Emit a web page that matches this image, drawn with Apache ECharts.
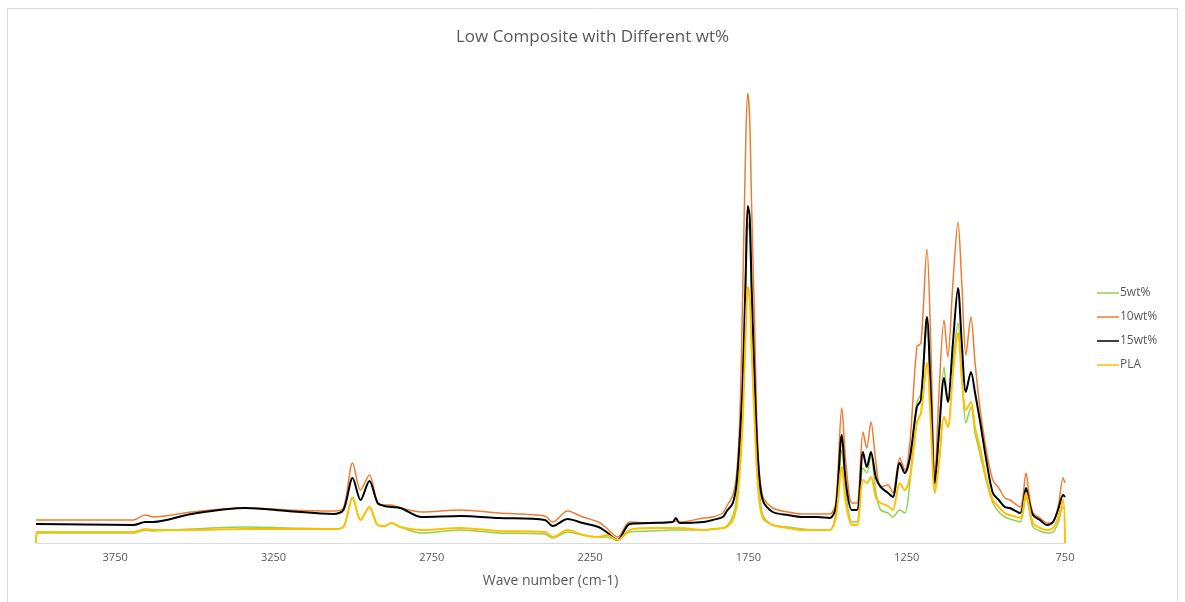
<!DOCTYPE html>
<html>
<head>
<meta charset="utf-8">
<script src="https://cdn.jsdelivr.net/npm/echarts@6/dist/echarts.min.js"></script>
<style>
html,body{margin:0;padding:0;background:#fff;}
#chartLine{width:1185px;height:602px;}
</style>
</head>
<body>
<div id="chartLine"></div>
<script>
// wave numbers (cm-1), shared by all series
var waveNumbers = [4000, 3997, 3692, 3655, 3629, 3509, 3339, 3206, 3060, 3029, 3000, 2975, 2947, 2921, 2899, 2877, 2849,
	2782, 2659, 2539, 2393, 2368, 2321, 2273, 2223, 2198, 2163, 2125, 2062, 1989, 1979, 1967, 1891, 1863, 1831, 1818,
	1799, 1787, 1777, 1768, 1758, 1752, 1746, 1740, 1730, 1720, 1705, 1673, 1625, 1578, 1531, 1493, 1474, 1455, 1442,
	1423, 1407, 1388, 1376, 1363, 1347, 1332, 1309, 1294, 1272, 1256, 1240, 1218, 1205, 1186, 1174, 1161, 1148, 1132,
	1120, 1104, 1088, 1076, 1063, 1047, 1034, 1019, 997, 978, 959, 940, 924, 892, 873, 864, 851, 829, 807, 788, 772,
	756, 750];
var wt5 = [10, 10, 10, 13, 12, 14, 16, 15, 14, 16, 46, 23, 36, 18, 17, 20, 16,
	10, 13, 10, 9, 5, 11, 8, 6, 6, 3, 11, 12, 13, 13, 13, 13, 14, 15, 17,
	27, 45, 90, 140, 255, 321, 310, 245, 150, 75, 28, 18, 16, 14, 13, 13, 30, 93, 50,
	21, 21, 75, 70, 88, 50, 33, 30, 26, 33, 30, 60, 140, 150, 218, 140, 56, 110, 176,
	141, 180, 220, 170, 120, 136, 110, 90, 60, 40, 31, 26, 24, 21, 46, 35, 16, 12, 10, 11, 20,
	36, 33];
var wt10 = [23, 23, 23, 28, 26, 31, 35, 33, 32, 35, 80, 53, 68, 40, 38, 38, 35,
	31, 33, 30, 27, 21, 32, 26, 21, 15, 6, 21, 20, 21, 22, 21, 25, 26, 30, 37,
	48, 70, 125, 250, 405, 450, 425, 340, 215, 95, 47, 35, 31, 29, 29, 29, 40, 135, 80,
	40, 40, 111, 95, 121, 80, 56, 58, 50, 85, 73, 100, 196, 200, 294, 200, 63, 150, 223,
	186, 260, 321, 260, 188, 226, 180, 136, 90, 63, 55, 45, 43, 36, 70, 50, 30, 25, 20, 21, 36,
	65, 60];
var wt15 = [19, 19, 18, 21, 21, 29, 35, 32, 29, 33, 65, 43, 62, 40, 37, 36, 35,
	26, 27, 25, 23, 17, 24, 20, 16, 11, 3, 19, 20, 21, 25, 20, 21, 23, 26, 32,
	40, 60, 105, 160, 275, 337, 327, 258, 160, 85, 43, 31, 28, 26, 26, 25, 35, 108, 60,
	33, 33, 91, 76, 91, 65, 56, 50, 46, 80, 70, 85, 136, 143, 226, 150, 60, 110, 165,
	141, 200, 255, 200, 151, 171, 150, 123, 80, 50, 43, 36, 35, 30, 55, 42, 28, 23, 18, 21, 33,
	48, 46];
var pla = [0, 11, 11, 14, 13, 13, 14, 14, 14, 16, 45, 23, 36, 18, 17, 20, 16,
	13, 15, 12, 11, 6, 13, 8, 6, 8, 3, 13, 15, 15, 15, 15, 13, 14, 15, 16,
	23, 38, 72, 120, 215, 256, 247, 195, 118, 58, 25, 18, 15, 13, 13, 13, 25, 76, 40,
	18, 18, 63, 60, 66, 45, 40, 37, 33, 60, 53, 65, 120, 130, 180, 120, 50, 80, 126,
	116, 170, 210, 165, 133, 141, 115, 96, 63, 43, 36, 30, 28, 25, 50, 38, 20, 15, 13, 15, 25,
	43, 0];
var seriesNames = ['5wt%', '10wt%', '15wt%', 'PLA'];
var seriesColors = ['#92d050', '#ed7d31', '#000000', '#ffc000'];
var seriesWidths = [1.5, 1.5, 2, 2];
var seriesValues = [wt5, wt10, wt15, pla];

drawLine();
function drawLine(){
	var myChart = echarts.init(document.getElementById('chartLine'));
	var series = [];
	for (var s = 0; s < seriesNames.length; s++) {
		var pts = [];
		for (var i = 0; i < waveNumbers.length; i++) {
			pts.push([waveNumbers[i], seriesValues[s][i]]);
		}
		series.push({
			name: seriesNames[s],
			type: 'line',
			showSymbol: false,
			symbol: 'none',
			smooth: 0.3,
			lineStyle: { color: seriesColors[s], width: seriesWidths[s] },
			itemStyle: { color: seriesColors[s] },
			data: pts
		});
	}
	var option = {
		animation: false,
		backgroundColor: '#fff',
		textStyle: { fontFamily: 'Open Sans' },
		title: {
			text: 'Low Composite with Different wt%',
			left: 'center',
			top: 24,
			textStyle: { color: '#595959', fontSize: 17, fontWeight: 'normal', fontFamily: 'Open Sans' }
		},
		legend: {
			orient: 'vertical',
			left: 1092,
			top: 281,
			icon: 'rect',
			itemWidth: 22,
			itemHeight: 1.5,
			itemGap: 10,
			textStyle: { color: '#595959', fontSize: 12, lineHeight: 14, padding: [0, 0, 0, -4] },
			data: seriesNames
		},
		grid: { left: 36, right: 120, top: 43, bottom: 59 },
		xAxis: {
			type: 'value',
			inverse: true,
			min: 750,
			max: 4000,
			interval: 500,
			name: 'Wave number (cm-1)',
			nameLocation: 'middle',
			nameGap: 31,
			nameTextStyle: { color: '#595959', fontSize: 14 },
			axisLine: { lineStyle: { color: '#d9d9d9' } },
			axisTick: { show: false },
			splitLine: { show: false },
			axisLabel: {
				color: '#595959',
				fontSize: 11,
				margin: 9,
				formatter: function (v) { return (v - 750) % 500 === 0 ? String(v) : ''; }
			}
		},
		yAxis: { type: 'value', min: 0, max: 500, show: false },
		graphic: [{
			type: 'rect',
			shape: { x: 7.5, y: 8.5, width: 1170, height: 600 },
			style: { fill: 'none', stroke: '#d9d9d9', lineWidth: 1 },
			silent: true
		}],
		series: series
	};
	myChart.setOption(option);
}
</script>
</body>
</html>
